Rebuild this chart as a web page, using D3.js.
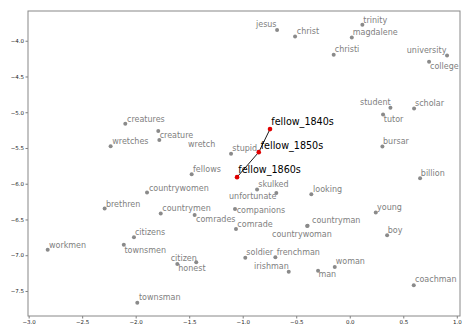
<!DOCTYPE html>
<html><head><meta charset="utf-8">
<script src="https://cdn.jsdelivr.net/npm/d3@7"></script>
<style>body{margin:0;background:#fff}svg{display:block}</style>
</head><body><svg id="c" width="462" height="327"></svg>
<script>
// words and their 2-D coordinates
const words = ["jesus","christ","trinity","magdalene","christi","university","college","student","scholar","tutor","bursar","creatures","creature","wretch","wretches","stupid","fellows","billion","countrywomen","skulked","unfortunate","looking","brethren","companions","countrymen","comrades","young","countryman","countrywoman","comrade","boy","citizens","townsmen","workmen","soldier","frenchman","citizen","honest","woman","irishman","man","coachman","townsman"];
const xs = [-0.679,-0.511,0.118,0.019,-0.150,0.909,0.741,0.380,0.601,0.311,0.305,-2.097,-1.789,-1.779,-2.234,-1.109,-1.477,0.657,-1.894,-0.686,-0.866,-0.359,-2.290,-1.072,-1.766,-1.449,0.243,-0.394,-0.398,-1.063,0.349,-2.016,-2.111,-2.822,-0.976,-0.695,-1.434,-1.611,-0.140,-0.570,-0.296,0.598,-1.985];
const ys = [-3.850,-3.940,-3.776,-3.954,-4.196,-4.206,-4.294,-4.938,-4.948,-5.032,-5.480,-5.162,-5.264,-5.390,-5.474,-5.582,-5.866,-5.922,-6.124,-6.128,-6.082,-6.146,-6.348,-6.352,-6.415,-6.436,-6.404,-6.587,-6.592,-6.632,-6.720,-6.748,-6.853,-6.922,-7.034,-7.028,-7.098,-7.122,-7.164,-7.230,-7.216,-7.420,-7.665];
// label anchor positions (data units, left edge / middle)
const labelXs = [-0.876,-0.495,0.127,0.028,-0.140,0.533,0.750,0.096,0.610,0.318,0.311,-2.081,-1.776,-1.511,-2.219,-1.097,-1.464,0.664,-1.876,-0.854,-1.128,-0.343,-2.278,-1.056,-1.751,-1.436,0.255,-0.352,-0.726,-1.050,0.355,-2.007,-2.105,-2.810,-0.966,-0.682,-1.673,-1.602,-0.131,-0.894,-0.293,0.610,-1.969];
const labelYs = [-3.772,-3.864,-3.706,-3.878,-4.122,-4.136,-4.354,-4.864,-4.868,-5.092,-5.410,-5.096,-5.316,-5.442,-5.404,-5.508,-5.792,-5.848,-6.068,-6.006,-6.174,-6.072,-6.282,-6.370,-6.342,-6.496,-6.334,-6.510,-6.702,-6.566,-6.646,-6.678,-6.926,-6.856,-6.954,-6.964,-7.038,-7.178,-7.090,-7.154,-7.272,-7.342,-7.594];
// trajectory of "fellow"
const trajWords = ["fellow_1840s","fellow_1850s","fellow_1860s"];
const trajXs = [-0.745,-0.850,-1.053];
const trajYs = [-5.236,-5.558,-5.908];
const trajLabelXs = [-0.733,-0.832,-1.041];
const trajLabelYs = [-5.134,-5.466,-5.806];
// ticks
const xTicks = [-3.0,-2.5,-2.0,-1.5,-1.0,-0.5,0.0,0.5,1.0];
const yTicks = [-4.0,-4.5,-5.0,-5.5,-6.0,-6.5,-7.0,-7.5];

const svg = d3.select("#c");
const L = 28, T = 11, R = 460, B = 316;
const x = d3.scaleLinear().domain([-3.006, 1.03]).range([L, R]);
const y = d3.scaleLinear().domain([-7.85, -3.584]).range([B, T]);
const font = "DejaVu Sans, sans-serif";
const fmt = d3.format(".1f");

const xa = svg.append("g").attr("transform", `translate(0,${B})`)
  .call(d3.axisBottom(x).tickValues(xTicks).tickFormat(fmt).tickSize(2.5).tickPadding(1.5));
const ya = svg.append("g").attr("transform", `translate(${L},0)`)
  .call(d3.axisLeft(y).tickValues(yTicks).tickFormat(fmt).tickSize(2.5).tickPadding(1.5));
[xa, ya].forEach(a => {
  a.select(".domain").remove();
  a.selectAll("line").attr("stroke", "#444").attr("stroke-width", 0.7);
  a.selectAll("text").attr("font-family", font).attr("font-size", 5.5).attr("fill", "#222");
});
svg.append("rect").attr("x", L).attr("y", T).attr("width", R - L).attr("height", B - T)
  .attr("fill", "none").attr("stroke", "#888").attr("stroke-width", 1);

const data = words.map((w, i) => ({w, x: xs[i], y: ys[i], lx: labelXs[i], ly: labelYs[i]}));
svg.append("g").selectAll("circle").data(data).join("circle")
  .attr("cx", d => x(d.x)).attr("cy", d => y(d.y)).attr("r", 2)
  .attr("fill", "#8a8a8a");
svg.append("g").selectAll("text").data(data).join("text")
  .attr("x", d => x(d.lx)).attr("y", d => y(d.ly)).attr("dy", "0.35em")
  .attr("font-family", font).attr("font-size", 8).attr("fill", "#808080")
  .text(d => d.w);

const traj = trajWords.map((w, i) => ({w, x: trajXs[i], y: trajYs[i], lx: trajLabelXs[i], ly: trajLabelYs[i]}));
svg.append("path").datum(traj)
  .attr("d", d3.line().x(d => x(d.x)).y(d => y(d.y)))
  .attr("fill", "none").attr("stroke", "#000").attr("stroke-width", 0.9);
svg.append("g").selectAll("circle").data(traj).join("circle")
  .attr("cx", d => x(d.x)).attr("cy", d => y(d.y)).attr("r", 2.3).attr("fill", "#e00000");
svg.append("g").selectAll("text").data(traj).join("text")
  .attr("x", d => x(d.lx)).attr("y", d => y(d.ly)).attr("dy", "0.35em")
  .attr("font-family", font).attr("font-size", 9.6).attr("fill", "#000")
  .text(d => d.w);
</script></body></html>
